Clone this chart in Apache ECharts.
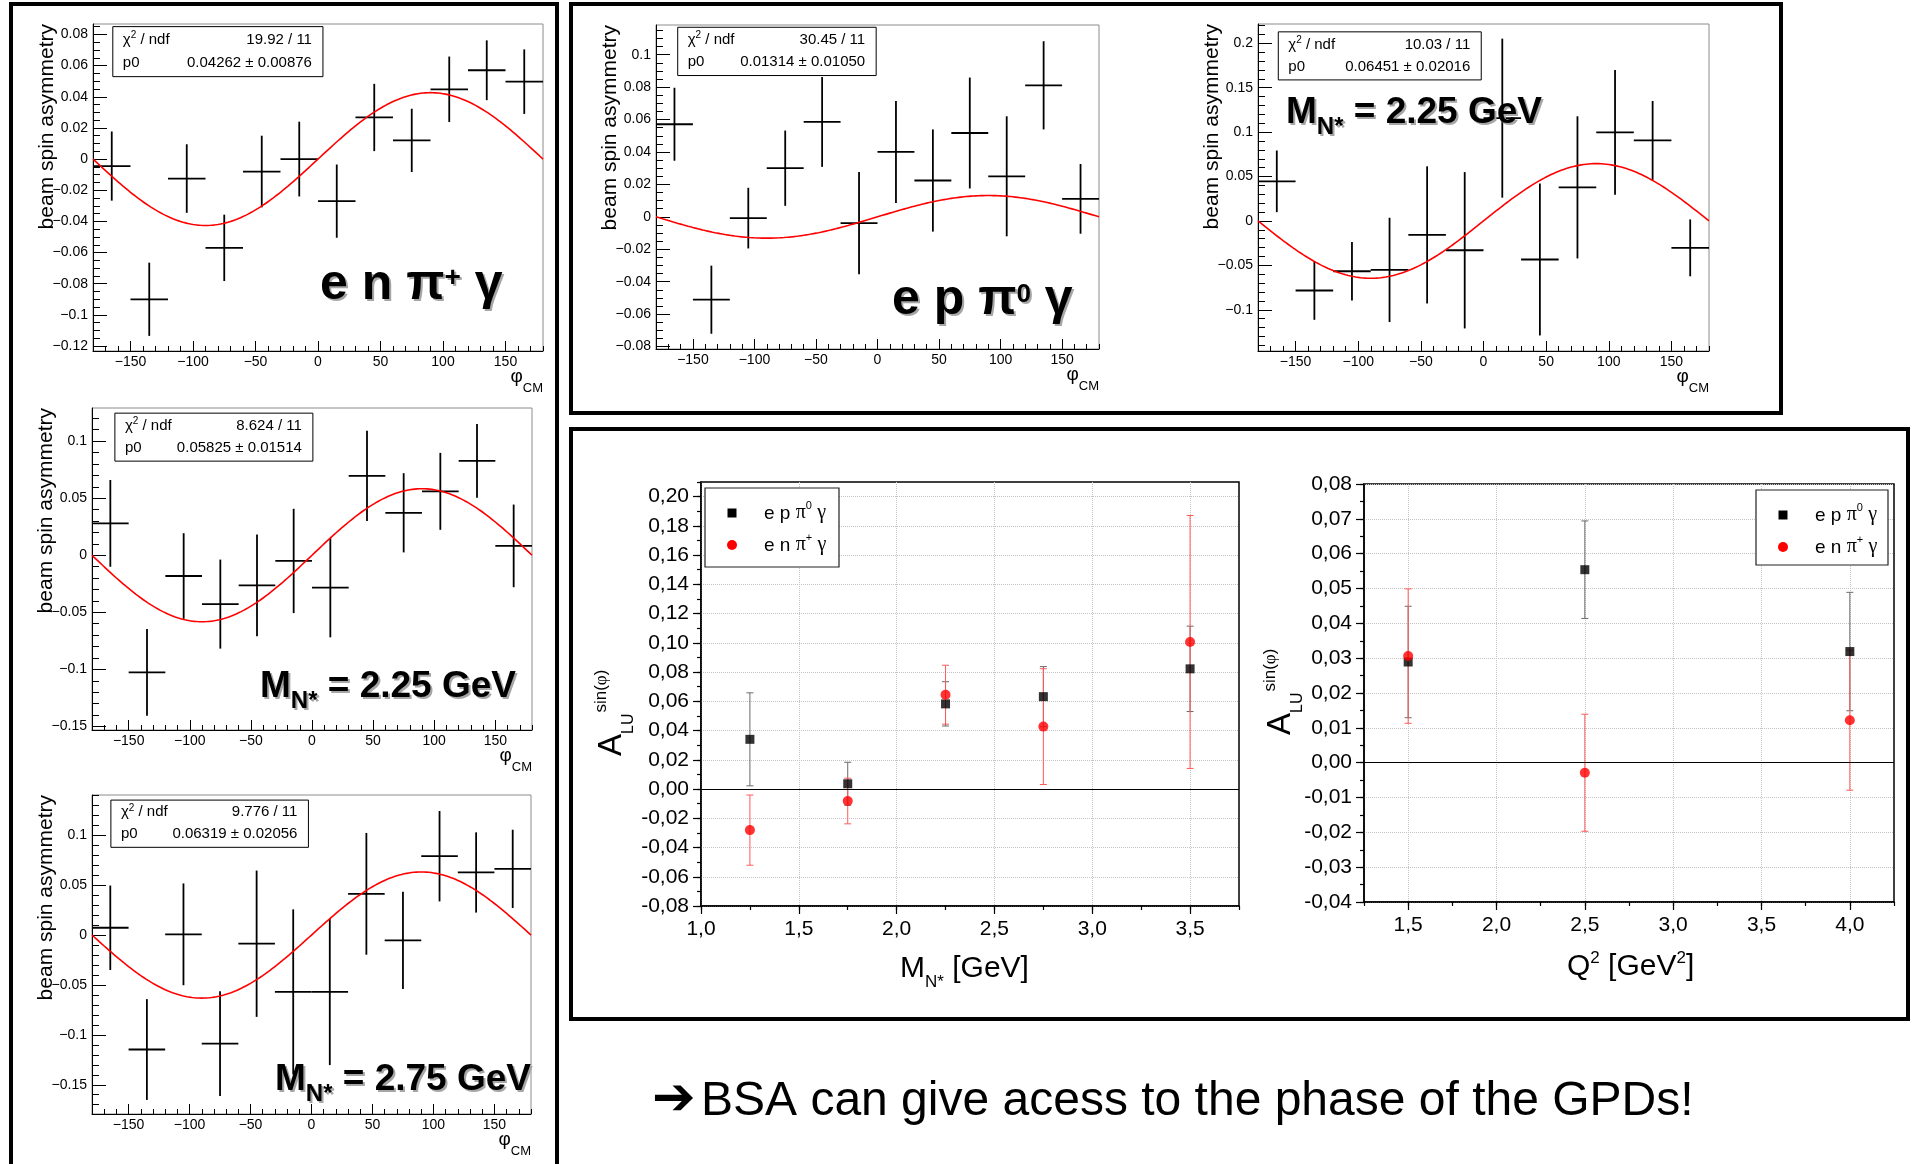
<!DOCTYPE html>
<html>
<head>
<meta charset="utf-8">
<title>Beam spin asymmetry</title>
<script src="https://cdn.jsdelivr.net/npm/echarts@6.0.0/dist/echarts.min.js"></script>
<style>
  html, body { margin: 0; padding: 0; background: #ffffff; }
  #chart { width: 1912px; height: 1164px; }
</style>
</head>
<body>
<div id="chart"></div>
<script>
// ---------- phi-binned beam spin asymmetries (fit with p0*sin(phi)) ----------
const PHI_CM = [-165, -135, -105, -75, -45, -15, 15, 45, 75, 105, 135, 165];
const PHI_HALF_BIN = 15;
const X_TICKS_PHI = [-150, -100, -50, 0, 50, 100, 150];
const X_LABELS_PHI = ['\u2212150', '\u2212100', '\u221250', '0', '50', '100', '150'];

// e n pi+ gamma
const BSA_ENPIPG = [-0.0045, -0.0900, -0.0125, -0.0570, -0.0080, 0.0000, -0.0270, 0.0267, 0.0120, 0.0448, 0.0570, 0.0497];
const BSA_ENPIPG_ERR = [0.0222, 0.0235, 0.0220, 0.0213, 0.0230, 0.0240, 0.0235, 0.0216, 0.0203, 0.0210, 0.0192, 0.0207];
const Y_RANGE_ENPIPG = [-0.1232, 0.0867];
const Y_TICKS_ENPIPG = [-0.12, -0.1, -0.08, -0.06, -0.04, -0.02, 0, 0.02, 0.04, 0.06, 0.08];
const Y_LABELS_ENPIPG = ['\u22120.12', '\u22120.1', '\u22120.08', '\u22120.06', '\u22120.04', '\u22120.02', '0', '0.02', '0.04', '0.06', '0.08'];

// M_N* = 2.25 GeV (left column)
const BSA_M225_L = [0.0279, -0.1027, -0.0182, -0.0428, -0.0264, -0.0050, -0.0284, 0.0695, 0.0372, 0.0560, 0.0827, 0.0082];
const BSA_M225_L_ERR = [0.0380, 0.0380, 0.0375, 0.0390, 0.0445, 0.0457, 0.0435, 0.0395, 0.0347, 0.0337, 0.0323, 0.0362];
const Y_RANGE_M225_L = [-0.1531, 0.1290];
const Y_TICKS_M225_L = [-0.15, -0.1, -0.05, 0, 0.05, 0.1];
const Y_LABELS_M225_L = ['\u22120.15', '\u22120.1', '\u22120.05', '0', '0.05', '0.1'];

// M_N* = 2.75 GeV
const BSA_M275 = [0.0073, -0.1147, 0.0007, -0.1087, -0.0087, -0.0570, -0.0570, 0.0413, -0.0053, 0.0790, 0.0627, 0.0663];
const BSA_M275_ERR = [0.0423, 0.0505, 0.0510, 0.0525, 0.0733, 0.0827, 0.0733, 0.0610, 0.0487, 0.0453, 0.0402, 0.0392];
const Y_RANGE_M275 = [-0.1793, 0.1403];
const Y_TICKS_M275 = [-0.15, -0.1, -0.05, 0, 0.05, 0.1];
const Y_LABELS_M275 = ['\u22120.15', '\u22120.1', '\u22120.05', '0', '0.05', '0.1'];

// e p pi0 gamma
const BSA_EPPI0G = [0.0571, -0.0511, -0.0008, 0.0300, 0.0585, -0.0039, 0.0400, 0.0224, 0.0517, 0.0250, 0.0811, 0.0111];
const BSA_EPPI0G_ERR = [0.0225, 0.0210, 0.0187, 0.0232, 0.0277, 0.0315, 0.0315, 0.0315, 0.0342, 0.0370, 0.0272, 0.0215];
const Y_RANGE_EPPI0G = [-0.0815, 0.1183];
const Y_TICKS_EPPI0G = [-0.08, -0.06, -0.04, -0.02, 0, 0.02, 0.04, 0.06, 0.08, 0.1];
const Y_LABELS_EPPI0G = ['\u22120.08', '\u22120.06', '\u22120.04', '\u22120.02', '0', '0.02', '0.04', '0.06', '0.08', '0.1'];

// M_N* = 2.25 GeV (top right)
const BSA_M225_R = [0.0446, -0.0783, -0.0566, -0.0551, -0.0157, -0.0330, 0.1157, -0.0434, 0.0378, 0.0996, 0.0906, -0.0303];
const BSA_M225_R_ERR = [0.0347, 0.0330, 0.0330, 0.0587, 0.0772, 0.0880, 0.0895, 0.0855, 0.0800, 0.0702, 0.0444, 0.0320];
const Y_RANGE_M225_R = [-0.1464, 0.2217];
const Y_TICKS_M225_R = [-0.1, -0.05, 0, 0.05, 0.1, 0.15, 0.2];
const Y_LABELS_M225_R = ['\u22120.1', '\u22120.05', '0', '0.05', '0.1', '0.15', '0.2'];

// fit results, one per panel above
const FIT_P0 = [0.04262, 0.05825, 0.06319, 0.01314, 0.06451];
const FIT_P0_ERR = [0.00876, 0.01514, 0.02056, 0.01050, 0.02016];
const FIT_CHI2 = [19.92, 8.624, 9.776, 30.45, 10.03];
const FIT_NDF = 11;

// ---------- extracted A_LU^sin(phi) ----------
const MASS_BINS = [1.25, 1.75, 2.25, 2.75, 3.5];
const ALU_EPPI0_VS_M = [0.0340, 0.0036, 0.05825, 0.06319, 0.0822];
const ALU_EPPI0_VS_M_ERR = [0.0318, 0.0147, 0.01514, 0.02056, 0.0292];
const ALU_ENPIP_VS_M = [-0.0281, -0.0082, 0.06451, 0.0427, 0.1006];
const ALU_ENPIP_VS_M_ERR = [0.0240, 0.0156, 0.02016, 0.0396, 0.0865];
const M_TICKS = [1.0, 1.5, 2.0, 2.5, 3.0, 3.5];
const M_LABELS = ['1,0', '1,5', '2,0', '2,5', '3,0', '3,5'];
const ALU_M_TICKS = [-0.08, -0.06, -0.04, -0.02, 0, 0.02, 0.04, 0.06, 0.08, 0.10, 0.12, 0.14, 0.16, 0.18, 0.20];
const ALU_M_LABELS = ['-0,08', '-0,06', '-0,04', '-0,02', '0,00', '0,02', '0,04', '0,06', '0,08', '0,10', '0,12', '0,14', '0,16', '0,18', '0,20'];

const Q2_BINS = [1.5, 2.5, 4.0];
const ALU_EPPI0_VS_Q2 = [0.0289, 0.0554, 0.0319];
const ALU_EPPI0_VS_Q2_ERR = [0.0160, 0.0140, 0.0170];
const ALU_ENPIP_VS_Q2 = [0.0306, -0.0029, 0.0122];
const ALU_ENPIP_VS_Q2_ERR = [0.0193, 0.0168, 0.0201];
const Q2_TICKS = [1.5, 2.0, 2.5, 3.0, 3.5, 4.0];
const Q2_LABELS = ['1,5', '2,0', '2,5', '3,0', '3,5', '4,0'];
const ALU_Q2_TICKS = [-0.04, -0.03, -0.02, -0.01, 0, 0.01, 0.02, 0.03, 0.04, 0.05, 0.06, 0.07, 0.08];
const ALU_Q2_LABELS = ['-0,04', '-0,03', '-0,02', '-0,01', '0,00', '0,01', '0,02', '0,03', '0,04', '0,05', '0,06', '0,07', '0,08'];

// ---------- helpers ----------
const SANS = '"Liberation Sans", Arial, Helvetica, sans-serif';
const SERIF = '"Liberation Serif", "Times New Roman", serif';
const SYMB = '"DejaVu Sans", sans-serif';

const mctx = document.createElement('canvas').getContext('2d');
function textWidth(t, size, fam, weight) {
  mctx.font = (weight || 'normal') + ' ' + size + 'px ' + fam;
  return mctx.measureText(t).width;
}
function labelFor(ticks, labels) {
  return function (v) {
    const i = ticks.findIndex(t => Math.abs(t - v) < 1e-9);
    return i >= 0 ? labels[i] : '';
  };
}
function stepTicks(lo, hi, step) {
  const out = [];
  const a = Math.ceil(lo / step - 1e-9), b = Math.floor(hi / step + 1e-9);
  for (let k = a; k <= b; k++) out.push(+(k * step).toFixed(8));
  return out;
}
// a run of text pieces sharing one baseline; each piece may be raised/lowered
function runWidth(parts, def) {
  let w = 0;
  parts.forEach(p => { w += textWidth(p.t, p.s, p.f || def.f, p.w || def.w); });
  return w;
}
function textRun(x, base, parts, def) {
  const els = [];
  let cx = x;
  parts.forEach(p => {
    const fam = p.f || def.f, wt = p.w || def.w || 'normal';
    els.push({
      type: 'text', x: cx, y: base + (p.dy || 0) - 0.35 * p.s, z: def.z || 20, silent: true,
      style: { text: p.t, fontSize: p.s, fontFamily: fam, fontWeight: wt, fill: def.fill || '#000',
               align: 'left', verticalAlign: 'middle' }
    });
    cx += textWidth(p.t, p.s, fam, wt);
  });
  return els;
}

const grid = [], xAxis = [], yAxis = [], series = [], graphic = [];

// ---------- ROOT style panels ----------
const ROOT_PANELS = [
  { frame: [93, 24, 543, 351], vals: BSA_ENPIPG, errs: BSA_ENPIPG_ERR, range: Y_RANGE_ENPIPG,
    ticks: Y_TICKS_ENPIPG, labels: Y_LABELS_ENPIPG, minor: 0.005, box: [0.044, 0.008, 0.511, 0.161],
    tag: { x: 320, base: 303, parts: [{ t: 'e n \u03c0', s: 50 }, { t: '+', s: 28, dy: -15 }, { t: ' \u03b3', s: 50 }] } },
  { frame: [92, 408, 532, 730], vals: BSA_M225_L, errs: BSA_M225_L_ERR, range: Y_RANGE_M225_L,
    ticks: Y_TICKS_M225_L, labels: Y_LABELS_M225_L, minor: 0.01, box: [0.052, 0.016, 0.502, 0.165],
    tag: { x: 260, base: 700, mass: '2.25' } },
  { frame: [92, 795, 531, 1114], vals: BSA_M275, errs: BSA_M275_ERR, range: Y_RANGE_M275,
    ticks: Y_TICKS_M275, labels: Y_LABELS_M275, minor: 0.01, box: [0.043, 0.016, 0.493, 0.164],
    tag: { x: 275, base: 1093, mass: '2.75' } },
  { frame: [656, 25, 1099, 349], vals: BSA_EPPI0G, errs: BSA_EPPI0G_ERR, range: Y_RANGE_EPPI0G,
    ticks: Y_TICKS_EPPI0G, labels: Y_LABELS_EPPI0G, minor: 0.005, box: [0.049, 0.007, 0.497, 0.156],
    tag: { x: 892, base: 318, parts: [{ t: 'e p \u03c0', s: 50 }, { t: '0', s: 26, dy: -14 }, { t: ' \u03b3', s: 50 }] } },
  { frame: [1258, 24, 1709, 351], vals: BSA_M225_R, errs: BSA_M225_R_ERR, range: Y_RANGE_M225_R,
    ticks: Y_TICKS_M225_R, labels: Y_LABELS_M225_R, minor: 0.01, box: [0.045, 0.024, 0.495, 0.171],
    tag: { x: 1286, base: 126, mass: '2.25' } }
];

function rootBars(params, api) {
  const x = api.value(0), y = api.value(1), e = api.value(2);
  const a = api.coord([x - PHI_HALF_BIN, y]), b = api.coord([x + PHI_HALF_BIN, y]);
  const t = api.coord([x, y + e]), d = api.coord([x, y - e]);
  const st = { stroke: '#000', lineWidth: 1.8, fill: null };
  return { type: 'group', children: [
    { type: 'line', shape: { x1: a[0], y1: a[1], x2: b[0], y2: b[1] }, style: st },
    { type: 'line', shape: { x1: t[0], y1: t[1], x2: d[0], y2: d[1] }, style: st }
  ] };
}
function fitCurve(p0) {
  const pts = [];
  for (let d = -180; d <= 180; d += 2) pts.push([d, p0 * Math.sin(d * Math.PI / 180)]);
  return pts;
}

ROOT_PANELS.forEach((p, k) => {
  const f = p.frame, W = f[2] - f[0], H = f[3] - f[1];
  const gi = grid.length;
  grid.push({ left: f[0], top: f[1], width: W, height: H, show: true, borderColor: '#8c8c8c',
              borderWidth: 1, backgroundColor: 'transparent', outerBoundsMode: 'none' });
  const xi = xAxis.length;
  xAxis.push({ gridIndex: gi, type: 'value', min: -180, max: 180, position: 'bottom',
    axisLine: { show: true, onZero: false, lineStyle: { color: '#000', width: 1 } },
    axisTick: { show: true, inside: true, length: 10, customValues: X_TICKS_PHI, lineStyle: { color: '#000', width: 1 } },
    axisLabel: { show: true, customValues: X_TICKS_PHI, formatter: labelFor(X_TICKS_PHI, X_LABELS_PHI),
                 fontSize: 14, fontFamily: SANS, color: '#000', margin: 4 },
    splitLine: { show: false } });
  xAxis.push({ gridIndex: gi, type: 'value', min: -180, max: 180, position: 'bottom',
    axisLine: { show: false, onZero: false },
    axisTick: { show: true, inside: true, length: 5, customValues: stepTicks(-180, 180, 10), lineStyle: { color: '#000', width: 1 } },
    axisLabel: { show: false }, splitLine: { show: false } });
  const yi = yAxis.length;
  yAxis.push({ gridIndex: gi, type: 'value', min: p.range[0], max: p.range[1], position: 'left',
    axisLine: { show: true, onZero: false, lineStyle: { color: '#000', width: 1 } },
    axisTick: { show: true, inside: true, length: 14, customValues: p.ticks, lineStyle: { color: '#000', width: 1 } },
    axisLabel: { show: true, customValues: p.ticks, formatter: labelFor(p.ticks, p.labels),
                 fontSize: 14, fontFamily: SANS, color: '#000', margin: 5 },
    splitLine: { show: false } });
  yAxis.push({ gridIndex: gi, type: 'value', min: p.range[0], max: p.range[1], position: 'left',
    axisLine: { show: false, onZero: false },
    axisTick: { show: true, inside: true, length: 7, customValues: stepTicks(p.range[0], p.range[1], p.minor), lineStyle: { color: '#000', width: 1 } },
    axisLabel: { show: false }, splitLine: { show: false } });

  series.push({ type: 'custom', xAxisIndex: xi, yAxisIndex: yi, clip: true, z: 3, silent: true,
    renderItem: rootBars, encode: { x: 0, y: 1 },
    data: PHI_CM.map((x, i) => [x, p.vals[i], p.errs[i]]) });
  series.push({ type: 'line', xAxisIndex: xi, yAxisIndex: yi, clip: true, z: 4, silent: true,
    showSymbol: false, symbol: 'none', lineStyle: { color: '#ff0000', width: 1.6 },
    data: fitCurve(FIT_P0[k]) });

  // stat box
  const bl = f[0] + p.box[0] * W, bt = f[1] + p.box[1] * H, br = f[0] + p.box[2] * W, bb = f[1] + p.box[3] * H;
  const bh = bb - bt, fs = 15;
  graphic.push({ type: 'rect', z: 15, silent: true, shape: { x: bl, y: bt, width: br - bl, height: bh },
                 style: { fill: '#fff', stroke: '#000', lineWidth: 1 } });
  const r1 = bt + 0.37 * bh, r2 = bt + 0.83 * bh;
  graphic.push(...textRun(bl + 10, r1, [{ t: '\u03c7', s: fs }, { t: '2', s: 10, dy: -6 }, { t: ' / ndf', s: fs }], { f: SANS }));
  graphic.push(...textRun(bl + 10, r2, [{ t: 'p0', s: fs }], { f: SANS }));
  graphic.push({ type: 'text', x: br - 11, y: r1 - 0.35 * fs, z: 20, silent: true,
    style: { text: FIT_CHI2[k].toPrecision(4) + ' / ' + FIT_NDF, fontSize: fs, fontFamily: SANS, fill: '#000', align: 'right', verticalAlign: 'middle' } });
  graphic.push({ type: 'text', x: br - 11, y: r2 - 0.35 * fs, z: 20, silent: true,
    style: { text: FIT_P0[k].toFixed(5) + ' \u00b1 ' + FIT_P0_ERR[k].toFixed(5), fontSize: fs, fontFamily: SANS, fill: '#000', align: 'right', verticalAlign: 'middle' } });

  // axis titles
  graphic.push({ type: 'text', x: f[0] - 46, y: f[1], rotation: Math.PI / 2, z: 20, silent: true,
    style: { text: 'beam spin asymmetry', fontSize: 21, fontFamily: SANS, fill: '#000', align: 'right', verticalAlign: 'middle' } });
  const phiParts = [{ t: '\u03c6', s: 19 }, { t: 'CM', s: 13, dy: 10 }];
  graphic.push(...textRun(f[2] - runWidth(phiParts, { f: SANS }), f[3] + 32, phiParts, { f: SANS }));

  // big physics tag with soft grey shadow
  const tagParts = p.tag.parts || [{ t: 'M', s: 37 }, { t: 'N*', s: 24, dy: 10 }, { t: ' = ' + p.tag.mass + ' GeV', s: 37 }];
  graphic.push(...textRun(p.tag.x + 2, p.tag.base + 2, tagParts, { f: SANS, w: 'bold', fill: '#a6a6a6', z: 18 }));
  graphic.push(...textRun(p.tag.x, p.tag.base, tagParts, { f: SANS, w: 'bold', z: 19 }));
});

// ---------- Origin style panels ----------
const ORIGIN_PANELS = [
  { frame: [701, 482, 1239, 906], xr: [1.0, 3.75], yr: [-0.08, 0.21], xt: M_TICKS, xl: M_LABELS, yt: ALU_M_TICKS, yl: ALU_M_LABELS,
    yMinor: 0.01, bins: MASS_BINS, black: ALU_EPPI0_VS_M, blackErr: ALU_EPPI0_VS_M_ERR, red: ALU_ENPIP_VS_M, redErr: ALU_ENPIP_VS_M_ERR,
    legend: [705, 488, 839, 567], ytitle: [623, 756],
    xtitle: { x: 900, base: 979, parts: [{ t: 'M', s: 30 }, { t: 'N*', s: 17, dy: 9 }, { t: ' [GeV]', s: 30 }] } },
  { frame: [1364, 484, 1894, 902], xr: [1.25, 4.25], yr: [-0.04, 0.08], xt: Q2_TICKS, xl: Q2_LABELS, yt: ALU_Q2_TICKS, yl: ALU_Q2_LABELS,
    yMinor: 0.005, bins: Q2_BINS, black: ALU_EPPI0_VS_Q2, blackErr: ALU_EPPI0_VS_Q2_ERR, red: ALU_ENPIP_VS_Q2, redErr: ALU_ENPIP_VS_Q2_ERR,
    legend: [1756, 490, 1888, 565], ytitle: [1292, 735],
    xtitle: { x: 1567, base: 977, parts: [{ t: 'Q', s: 30 }, { t: '2', s: 17, dy: -13 }, { t: ' [GeV', s: 30 }, { t: '2', s: 17, dy: -13 }, { t: ']', s: 30 }] } }
];

function originBars(color) {
  return function (params, api) {
    const x = api.value(0), y = api.value(1), e = api.value(2);
    const t = api.coord([x, y + e]), d = api.coord([x, y - e]);
    const c = 3.5, st = { stroke: color, lineWidth: 1, fill: null };
    return { type: 'group', children: [
      { type: 'line', shape: { x1: t[0], y1: t[1], x2: d[0], y2: d[1] }, style: st },
      { type: 'line', shape: { x1: t[0] - c, y1: t[1], x2: t[0] + c, y2: t[1] }, style: st },
      { type: 'line', shape: { x1: d[0] - c, y1: d[1], x2: d[0] + c, y2: d[1] }, style: st }
    ] };
  };
}

ORIGIN_PANELS.forEach(p => {
  const f = p.frame, W = f[2] - f[0], H = f[3] - f[1];
  const gi = grid.length;
  grid.push({ left: f[0], top: f[1], width: W, height: H, show: true, borderColor: '#000',
              borderWidth: 1.5, backgroundColor: 'transparent', outerBoundsMode: 'none' });
  const xi = xAxis.length;
  xAxis.push({ gridIndex: gi, type: 'value', min: p.xr[0], max: p.xr[1], position: 'bottom',
    axisLine: { show: true, onZero: false, lineStyle: { color: '#000', width: 1.5 } },
    axisTick: { show: true, inside: false, length: 8, customValues: p.xt, lineStyle: { color: '#000', width: 1.2 } },
    axisLabel: { show: true, customValues: p.xt, formatter: labelFor(p.xt, p.xl), fontSize: 21, fontFamily: SANS, color: '#000', margin: 13 },
    splitLine: { show: true, lineStyle: { color: '#c4c4c4', width: 1, type: 'dotted' } } });
  xAxis.push({ gridIndex: gi, type: 'value', min: p.xr[0], max: p.xr[1], position: 'bottom',
    axisLine: { show: false, onZero: false },
    axisTick: { show: true, inside: false, length: 4, customValues: stepTicks(p.xr[0], p.xr[1], 0.25), lineStyle: { color: '#000', width: 1.2 } },
    axisLabel: { show: false }, splitLine: { show: false } });
  const yi = yAxis.length;
  yAxis.push({ gridIndex: gi, type: 'value', min: p.yr[0], max: p.yr[1], position: 'left',
    axisLine: { show: true, onZero: false, lineStyle: { color: '#000', width: 1.5 } },
    axisTick: { show: true, inside: false, length: 8, customValues: p.yt, lineStyle: { color: '#000', width: 1.2 } },
    axisLabel: { show: true, customValues: p.yt, formatter: labelFor(p.yt, p.yl), fontSize: 21, fontFamily: SANS, color: '#000', margin: 12 },
    splitLine: { show: true, lineStyle: { color: '#c4c4c4', width: 1, type: 'dotted' } } });
  yAxis.push({ gridIndex: gi, type: 'value', min: p.yr[0], max: p.yr[1], position: 'left',
    axisLine: { show: false, onZero: false },
    axisTick: { show: true, inside: false, length: 4, customValues: stepTicks(p.yr[0], p.yr[1], p.yMinor), lineStyle: { color: '#000', width: 1.2 } },
    axisLabel: { show: false }, splitLine: { show: false } });

  series.push({ type: 'custom', xAxisIndex: xi, yAxisIndex: yi, z: 3, silent: true, renderItem: originBars('#6a6a6a'),
    encode: { x: 0, y: 1 }, data: p.bins.map((x, i) => [x, p.black[i], p.blackErr[i]]) });
  series.push({ type: 'custom', xAxisIndex: xi, yAxisIndex: yi, z: 3, silent: true, renderItem: originBars('#ff5a5a'),
    encode: { x: 0, y: 1 }, data: p.bins.map((x, i) => [x, p.red[i], p.redErr[i]]) });
  series.push({ type: 'scatter', xAxisIndex: xi, yAxisIndex: yi, z: 4, silent: true, symbol: 'rect', symbolSize: 9,
    itemStyle: { color: '#000' }, data: p.bins.map((x, i) => [x, p.black[i]]),
    markLine: { silent: true, symbol: 'none', label: { show: false }, animation: false,
                lineStyle: { color: '#000', width: 1, type: 'solid' }, data: [{ yAxis: 0 }] } });
  series.push({ type: 'scatter', xAxisIndex: xi, yAxisIndex: yi, z: 5, silent: true, symbol: 'circle', symbolSize: 10,
    itemStyle: { color: '#ff0000' }, data: p.bins.map((x, i) => [x, p.red[i]]) });

  // legend
  const L = p.legend;
  graphic.push({ type: 'rect', z: 15, silent: true, shape: { x: L[0], y: L[1], width: L[2] - L[0], height: L[3] - L[1] },
                 style: { fill: '#fff', stroke: '#222', lineWidth: 1.2 } });
  const mx = L[0] + 27, ry1 = L[1] + 25, ry2 = L[1] + 57;
  graphic.push({ type: 'rect', z: 16, silent: true, shape: { x: mx - 4.5, y: ry1 - 4.5, width: 9, height: 9 }, style: { fill: '#000' } });
  graphic.push({ type: 'circle', z: 16, silent: true, shape: { cx: mx, cy: ry2, r: 5 }, style: { fill: '#ff0000' } });
  const tx = L[0] + 59;
  graphic.push(...textRun(tx, ry1 + 7, [{ t: 'e p ', s: 19 }, { t: '\u03c0', s: 20, f: SERIF }, { t: '0', s: 11, dy: -10 }, { t: ' ', s: 19 }, { t: '\u03b3', s: 20, f: SERIF }], { f: SANS }));
  graphic.push(...textRun(tx, ry2 + 7, [{ t: 'e n ', s: 19 }, { t: '\u03c0', s: 20, f: SERIF }, { t: '+', s: 11, dy: -10 }, { t: ' ', s: 19 }, { t: '\u03b3', s: 20, f: SERIF }], { f: SANS }));

  // axis titles
  graphic.push(...textRun(p.xtitle.x, p.xtitle.base, p.xtitle.parts, { f: SANS }));
  const wA = textWidth('A', 33, SANS), wLU = textWidth('LU', 16, SANS);
  graphic.push({ type: 'group', x: p.ytitle[0], y: p.ytitle[1], rotation: Math.PI / 2, silent: true,
    children: [].concat(
      textRun(0, 0, [{ t: 'A', s: 33 }], { f: SANS }),
      textRun(wA, 11.5, [{ t: 'LU', s: 16 }], { f: SANS }),
      textRun(wA + wLU + 1, -16, [{ t: 'sin(', s: 17 }, { t: '\u03c6', s: 17, f: SERIF }, { t: ')', s: 17 }], { f: SANS })
    ) });
});

// ---------- slide frames and note ----------
[[11, 4, 546, 1180], [571, 4, 1210, 409], [571, 429, 1337, 590]].forEach(r => {
  graphic.push({ type: 'rect', z: 30, silent: true, shape: { x: r[0], y: r[1], width: r[2], height: r[3] },
                 style: { fill: 'none', stroke: '#000', lineWidth: 4 } });
});
graphic.push(...textRun(652, 1119, [{ t: '\u2794', s: 52, f: SYMB, w: 'bold' }], { f: SYMB }));
graphic.push(...textRun(701, 1119, [{ t: 'BSA can give acess to the phase of the GPDs!', s: 48 }], { f: SANS }));

const chart = echarts.init(document.getElementById('chart'), null, { renderer: 'canvas', width: 1912, height: 1164 });
chart.setOption({
  backgroundColor: '#ffffff',
  animation: false,
  grid: grid,
  xAxis: xAxis,
  yAxis: yAxis,
  series: series,
  graphic: { elements: graphic }
});
</script>
</body>
</html>
